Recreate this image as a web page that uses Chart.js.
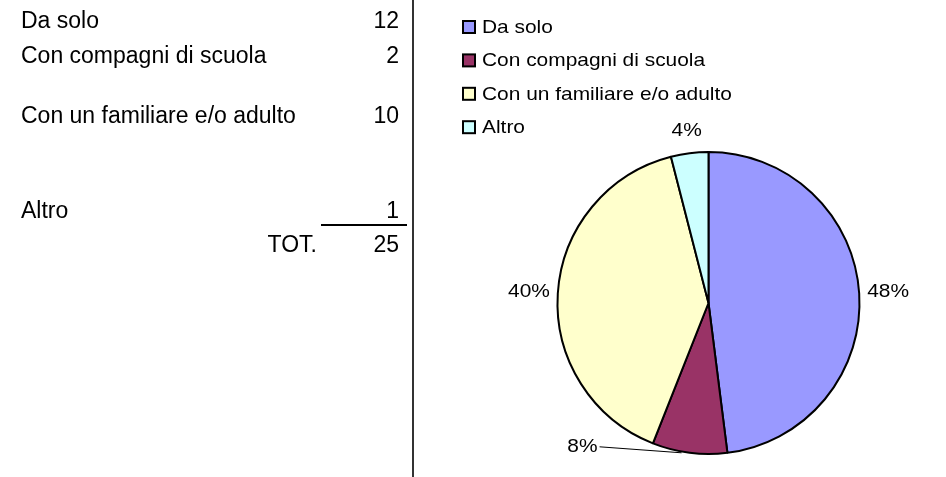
<!DOCTYPE html>
<html lang="it">
<head>
    <meta charset="UTF-8">
    <title>Da solo / con altri</title>
    <script src="https://cdn.jsdelivr.net/npm/chart.js"></script>
    <style>
        body {
            margin: 0;
            background: #fff;
        }
        canvas {
            display: block;
        }
    </style>
</head>
<body>
    <canvas id="pieChart" width="946" height="477"></canvas>

    <script>
        const categories = ['Da solo', 'Con compagni di scuola', 'Con un familiare e/o adulto', 'Altro'];
        const counts = [12, 2, 10, 1];
        const totalLabel = 'TOT.';

        const total = counts.reduce((a, b) => a + b, 0);
        const sliceColors = ['#9999FF', '#993366', '#FFFFCC', '#CCFFFF'];

        const FONT = "'Liberation Sans', Arial, sans-serif";

        // testo allargato in orizzontale come nell'originale
        function wideText(ctx, str, x, y, sx, align) {
            ctx.save();
            ctx.translate(x, y);
            ctx.scale(sx, 1);
            ctx.textAlign = align;
            ctx.fillText(str, 0, 0);
            ctx.restore();
        }

        const sheetPlugin = {
            id: 'sheet',
            afterDraw(chart) {
                const ctx = chart.ctx;
                ctx.save();
                ctx.fillStyle = '#000';

                // tabella a sinistra
                const rowBase = [28, 62.5, 123, 218];
                ctx.font = '23px ' + FONT;
                ctx.textBaseline = 'alphabetic';
                categories.forEach((c, i) => {
                    ctx.textAlign = 'left';
                    ctx.fillText(c, 21, rowBase[i]);
                    ctx.textAlign = 'right';
                    ctx.fillText(String(counts[i]), 399, rowBase[i]);
                });
                ctx.fillRect(321, 224, 86, 2);
                ctx.textAlign = 'right';
                ctx.fillText(totalLabel, 317, 252);
                ctx.fillText(String(total), 399, 252);

                // linea verticale
                ctx.fillStyle = '#333';
                ctx.fillRect(412, 0, 2, 477);

                // legenda
                ctx.font = '18.5px ' + FONT;
                ctx.textBaseline = 'middle';
                categories.forEach((c, i) => {
                    const cy = 27 + i * 33.4;
                    ctx.fillStyle = sliceColors[i];
                    ctx.fillRect(463, cy - 6, 12, 12);
                    ctx.strokeStyle = '#000';
                    ctx.lineWidth = 2;
                    ctx.strokeRect(463, cy - 6, 12, 12);
                    ctx.fillStyle = '#000';
                    wideText(ctx, c, 482, cy + 1, 1.13, 'left');
                });

                // etichette percentuali
                const meta = chart.getDatasetMeta(0);
                meta.data.forEach((arc, i) => {
                    const pct = Math.round(counts[i] / total * 100) + '%';
                    const mid = (arc.startAngle + arc.endAngle) / 2;
                    const cos = Math.cos(mid), sin = Math.sin(mid);
                    const w = ctx.measureText(pct).width * 1.13;
                    ctx.fillStyle = '#000';
                    if (sin > 0.9) {
                        // fetta piccola in basso: etichetta spostata con linea guida
                        const ex = arc.x + arc.outerRadius * cos;
                        const ey = arc.y + arc.outerRadius * sin;
                        const lx = ex - 92, ly = ey - 6;
                        wideText(ctx, pct, lx, ly, 1.13, 'right');
                        ctx.strokeStyle = '#000';
                        ctx.lineWidth = 1;
                        ctx.beginPath();
                        ctx.moveTo(lx + 2, ly);
                        ctx.lineTo(ex - 8, ey);
                        ctx.stroke();
                        return;
                    }
                    const r = arc.outerRadius + 8;
                    const ax = arc.x + r * cos, ay = arc.y + r * sin;
                    const cx = ax + cos * w / 2;
                    const cy = ay + sin * 14;
                    wideText(ctx, pct, cx, cy, 1.13, 'center');
                });

                ctx.restore();
            }
        };

        const ctx = document.getElementById('pieChart').getContext('2d');
        new Chart(ctx, {
            type: 'pie',
            data: {
                labels: categories,
                datasets: [{
                    data: counts,
                    backgroundColor: sliceColors,
                    borderColor: '#000',
                    borderWidth: 2,
                    radius: 151
                }]
            },
            options: {
                responsive: false,
                animation: false,
                layout: {
                    padding: { left: 471, top: 129, right: 0, bottom: 0 }
                },
                plugins: {
                    legend: { display: false },
                    tooltip: { enabled: false }
                }
            },
            plugins: [sheetPlugin]
        });
    </script>
</body>
</html>
